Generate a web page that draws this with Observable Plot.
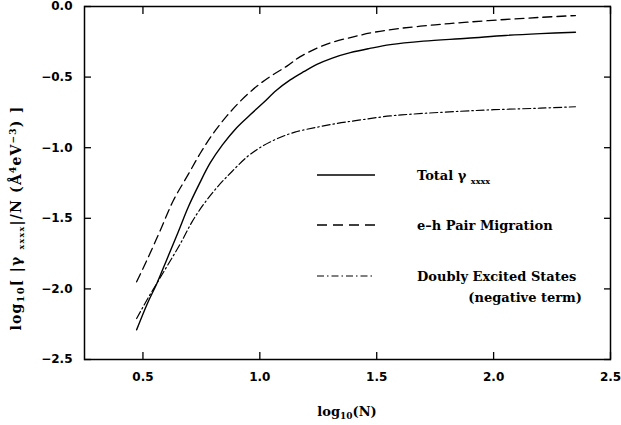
<!DOCTYPE html>
<html>
<head>
<meta charset="utf-8">
<script src="https://cdn.jsdelivr.net/npm/d3@7"></script>
<script src="https://cdn.jsdelivr.net/npm/@observablehq/plot@0.6"></script>
<style>
  html, body { margin: 0; padding: 0; background: #fff; }
  #chart svg { display: block; background: #fff; }
</style>
</head>
<body>
<div id="chart"></div>
<script>
// ---- data ----
const logN_total = [0.473, 0.52, 0.56, 0.60, 0.65, 0.694, 0.74, 0.787, 0.84, 0.90, 0.96, 1.016, 1.07, 1.13, 1.19, 1.244, 1.31, 1.387, 1.47, 1.558, 1.70, 1.887, 2.05, 2.20, 2.35];
const total      = [-2.29, -2.10, -1.96, -1.80, -1.60, -1.42, -1.26, -1.11, -0.98, -0.86, -0.765, -0.68, -0.595, -0.52, -0.46, -0.41, -0.365, -0.327, -0.297, -0.27, -0.245, -0.225, -0.205, -0.192, -0.182];

const logN_eh = [0.473, 0.516, 0.573, 0.63, 0.69, 0.744, 0.80, 0.859, 0.92, 0.987, 1.05, 1.116, 1.173, 1.287, 1.40, 1.487, 1.60, 1.75, 1.887, 2.05, 2.20, 2.35];
const eh      = [-1.95, -1.80, -1.59, -1.374, -1.20, -1.043, -0.90, -0.775, -0.665, -0.565, -0.49, -0.422, -0.355, -0.266, -0.215, -0.183, -0.155, -0.13, -0.111, -0.092, -0.077, -0.064];

const logN_des = [0.473, 0.52, 0.565, 0.61, 0.66, 0.71, 0.76, 0.82, 0.88, 0.944, 1.0, 1.073, 1.15, 1.244, 1.33, 1.416, 1.558, 1.70, 1.86, 2.0, 2.20, 2.35];
const des      = [-2.21, -2.07, -1.945, -1.82, -1.68, -1.525, -1.40, -1.275, -1.17, -1.067, -1.0, -0.937, -0.89, -0.855, -0.828, -0.807, -0.775, -0.757, -0.742, -0.731, -0.72, -0.71];

const xTicks = [0.5, 1.0, 1.5, 2.0, 2.5];
const yTicks = [0.0, -0.5, -1.0, -1.5, -2.0, -2.5];
const xDomain = [0.25, 2.5];
const yDomain = [-2.5, 0];
const seriesLabels = ["Total γ", "e–h Pair Migration", "Doubly Excited States", "(negative term)"];

// ---- build tables ----
const toRows = (xs, ys) => xs.map((x, i) => ({x, y: ys[i]}));
const rowsTotal = toRows(logN_total, total);
const rowsEh = toRows(logN_eh, eh);
const rowsDes = toRows(logN_des, des);

const W = 621, H = 425;
const mL = 84, mR = 11, mT = 6, mB = 66;
const innerW = W - mL - mR, innerH = H - mT - mB;
const tickLen = 7;
const serif = "'DejaVu Serif', serif";
const sans = "'DejaVu Sans', sans-serif";
const fmt = d => d3.format(".1f")(d).replace("-", "−");
const noLabel = () => "";

const chart = Plot.plot({
  width: W,
  height: H,
  marginLeft: mL,
  marginRight: mR,
  marginTop: mT,
  marginBottom: mB,
  x: {domain: xDomain, label: null},
  y: {domain: yDomain, label: null},
  marks: [
    Plot.frame({strokeWidth: 1.5}),
    // inward ticks on all four sides (negative tick size points into the frame)
    Plot.axisX(xTicks, {anchor: "bottom", tickSize: -tickLen, tickPadding: 13 + tickLen, tickFormat: fmt, fontWeight: "bold", fontSize: 12}),
    Plot.axisX(xTicks, {anchor: "top", tickSize: -tickLen, tickFormat: noLabel}),
    Plot.axisY(yTicks, {anchor: "left", tickSize: -tickLen, tickPadding: 12 + tickLen, tickFormat: fmt, fontWeight: "bold", fontSize: 12}),
    Plot.axisY(yTicks, {anchor: "right", tickSize: -tickLen, tickFormat: noLabel}),
    Plot.line(rowsTotal, {x: "x", y: "y", stroke: "#000", strokeWidth: 1.4, curve: "catmull-rom"}),
    Plot.line(rowsEh, {x: "x", y: "y", stroke: "#000", strokeWidth: 1.3, strokeDasharray: "9,5", curve: "catmull-rom"}),
    Plot.line(rowsDes, {x: "x", y: "y", stroke: "#000", strokeWidth: 1.2, strokeDasharray: "8,3,1.5,3", curve: "catmull-rom"})
  ]
});
document.getElementById("chart").appendChild(chart);

// ---- fonts, annotation text & legend ----
const svg = d3.select(chart).attr("font-family", sans).attr("font-weight", "bold").attr("font-size", 12);
svg.selectAll("g[aria-label$='tick'] path").attr("stroke-width", 1.3);
const g = svg.append("g")
  .attr("font-family", serif).attr("font-weight", "bold").attr("font-size", 13)
  .attr("fill", "#000").attr("text-anchor", "start");

// legend
const legendRows = [
  {y: 175, dash: null, w: 1.4},
  {y: 225, dash: "10,6", w: 1.3},
  {y: 276, dash: "7,3,1.5,3", w: 1.2}
];
legendRows.forEach(r => {
  g.append("line").attr("x1", 317).attr("x2", 375).attr("y1", r.y).attr("y2", r.y)
    .attr("stroke", "#000").attr("stroke-width", r.w).attr("stroke-dasharray", r.dash);
});
const t1 = g.append("text").attr("x", 417).attr("y", 179.5).attr("text-anchor", "start");
t1.append("tspan").text(seriesLabels[0] + " ");
t1.append("tspan").attr("font-size", 8).attr("dy", 4).text("xxxx");
g.append("text").attr("x", 417).attr("y", 229.5).attr("text-anchor", "start").text(seriesLabels[1]);
g.append("text").attr("x", 417).attr("y", 280.5).attr("text-anchor", "start").text(seriesLabels[2]);
g.append("text").attr("x", 582).attr("y", 301.5).attr("text-anchor", "end").text(seriesLabels[3]);

// x axis label
const xl = g.append("text").attr("x", mL + innerW / 2).attr("y", 416).attr("text-anchor", "middle");
xl.append("tspan").text("log");
xl.append("tspan").attr("font-size", 9).attr("dy", 3).text("10");
xl.append("tspan").attr("dy", -3).text("(N)");

// y axis label
const yl = g.append("text").attr("transform", "translate(21,218) rotate(-90)")
  .attr("text-anchor", "middle").attr("font-size", 14).attr("letter-spacing", 1.2);
yl.append("tspan").text("log");
yl.append("tspan").attr("font-size", 10).attr("dy", 3).text("10");
yl.append("tspan").attr("dy", -3).text("[ |γ ");
yl.append("tspan").attr("font-size", 8).attr("dy", 3).text("xxxx");
yl.append("tspan").attr("dy", -3).text("|/N (Å");
yl.append("tspan").attr("font-size", 9).attr("dy", -5).text("4");
yl.append("tspan").attr("dy", 5).text("eV");
yl.append("tspan").attr("font-size", 9).attr("dy", -5).text("−3");
yl.append("tspan").attr("dy", 5).text(") ]");
</script>
</body>
</html>
